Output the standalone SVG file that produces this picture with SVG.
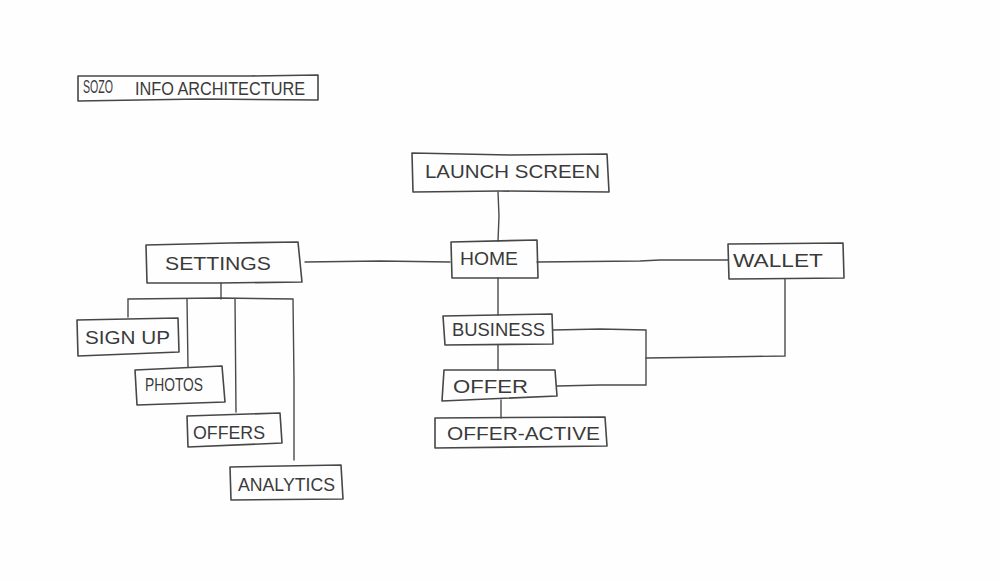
<svg xmlns="http://www.w3.org/2000/svg" width="1000" height="581" viewBox="0 0 1000 581">
<style>
.box{fill:none;stroke:#474747;stroke-width:1.6;stroke-linejoin:round}
.ln{fill:none;stroke:#4a4a4a;stroke-width:1.4;stroke-linecap:round}
.t{font-family:"Liberation Sans",Arial,sans-serif;fill:#3a3a3a;font-size:18px}
</style>
<rect width="1000" height="581" fill="#fefefe"/>
<g id="connectors">
<path class="ln" d="M498 192 L499 216 L498 241"/>
<path class="ln" d="M305 262 L380 261 L450 262"/>
<path class="ln" d="M537 262 L640 261 L660 260 L728 260"/>
<path class="ln" d="M221 283 L221 299"/>
<path class="ln" d="M128 317 L128 299 L220 298 L293 299 L294 380 L294 460"/>
<path class="ln" d="M187 299 L188 367"/>
<path class="ln" d="M235 299 L236 412"/>
<path class="ln" d="M498 278 L498 315"/>
<path class="ln" d="M498 345 L498 370"/>
<path class="ln" d="M501 400 L501 418"/>
<path class="ln" d="M553 330 L600 329 L646 330 L646 385 L600 385 L557 386"/>
<path class="ln" d="M646 358 L720 357 L785 356 L785 279"/>
</g>
<g id="title">
<path class="box" d="M78 76 L250 76 L318 75 L318 100 L200 99 L78 101 Z"/>
<text class="t" x="83" y="93" font-size="12" textLength="30" lengthAdjust="spacingAndGlyphs">SOZO</text>
<text class="t" x="135" y="95" font-size="16" textLength="170" lengthAdjust="spacingAndGlyphs">INFO ARCHITECTURE</text>
</g>
<g id="launch">
<path class="box" d="M412 153 L510 155 L607 154 L609 192 L500 191 L413 192 Z"/>
<text class="t" x="425" y="178" font-size="20" textLength="175" lengthAdjust="spacingAndGlyphs">LAUNCH SCREEN</text>
</g>
<g id="settings">
<path class="box" d="M146 245 L230 243 L298 242 L302 282 L220 283 L147 283 Z"/>
<text class="t" x="165" y="270" textLength="106" lengthAdjust="spacingAndGlyphs">SETTINGS</text>
</g>
<g id="home">
<path class="box" d="M451 242 L537 240 L538 278 L452 278 Z"/>
<text class="t" x="460" y="265" font-size="19" textLength="58" lengthAdjust="spacingAndGlyphs">HOME</text>
</g>
<g id="wallet">
<path class="box" d="M728 244 L843 243 L844 278 L729 279 Z"/>
<text class="t" x="733" y="267" font-size="19" textLength="90" lengthAdjust="spacingAndGlyphs">WALLET</text>
</g>
<g id="signup">
<path class="box" d="M77 320 L178 318 L179 352 L78 356 Z"/>
<text class="t" x="85" y="344" textLength="85" lengthAdjust="spacingAndGlyphs">SIGN UP</text>
</g>
<g id="photos">
<path class="box" d="M135 370 L222 366 L225 402 L137 405 Z"/>
<text class="t" x="145" y="391" font-size="17" textLength="58" lengthAdjust="spacingAndGlyphs">PHOTOS</text>
</g>
<g id="offers">
<path class="box" d="M187 416 L280 413 L282 443 L188 447 Z"/>
<text class="t" x="193" y="439" textLength="72" lengthAdjust="spacingAndGlyphs">OFFERS</text>
</g>
<g id="analytics">
<path class="box" d="M230 467 L341 465 L343 499 L231 500 Z"/>
<text class="t" x="238" y="491" textLength="97" lengthAdjust="spacingAndGlyphs">ANALYTICS</text>
</g>
<g id="business">
<path class="box" d="M443 316 L552 314 L553 344 L445 345 Z"/>
<text class="t" x="452" y="336" textLength="93" lengthAdjust="spacingAndGlyphs">BUSINESS</text>
</g>
<g id="offer">
<path class="box" d="M444 370 L555 370 L557 396 L442 401 Z"/>
<text class="t" x="453" y="393" textLength="75" lengthAdjust="spacingAndGlyphs">OFFER</text>
</g>
<g id="offer-active">
<path class="box" d="M435 418 L605 417 L607 446 L435 448 Z"/>
<text class="t" x="447" y="440" textLength="153" lengthAdjust="spacingAndGlyphs">OFFER-ACTIVE</text>
</g>
</svg>
